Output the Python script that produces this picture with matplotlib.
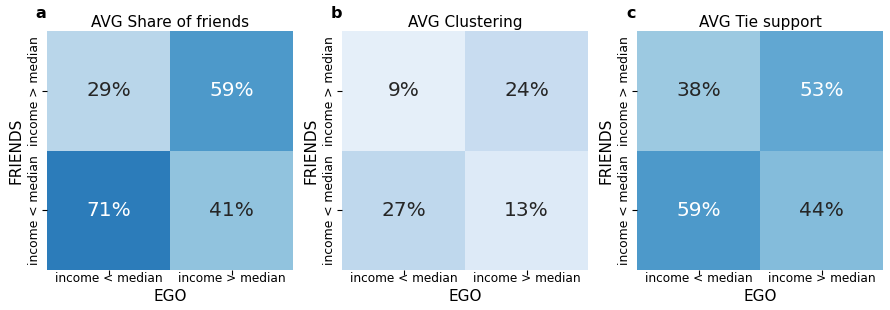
import numpy as np
import matplotlib
matplotlib.use("Agg")
import matplotlib.pyplot as plt
import seaborn as sns

# --------- DATA ---------
ROW_LABELS = ["income > median", "income < median"]   # FRIENDS (top -> bottom)
COL_LABELS = ["income < median", "income > median"]   # EGO (left -> right)

TITLES = ["AVG Share of friends", "AVG Clustering", "AVG Tie support"]
PANEL_LETTERS = ["a", "b", "c"]

share_friends = [[0.29, 0.59],
                 [0.71, 0.41]]
clustering = [[0.09, 0.24],
              [0.27, 0.13]]
tie_support = [[0.38, 0.53],
               [0.59, 0.44]]
# ------------------------

PANELS = [share_friends, clustering, tie_support]
LEFTS = [47, 342, 637]  # px

fig = plt.figure(figsize=(8.9, 3.1), dpi=100)
W, H = 890, 310

for i, (vals, title, letter) in enumerate(zip(PANELS, TITLES, PANEL_LETTERS)):
    ax = fig.add_axes([LEFTS[i] / W, (H - 270) / H, 246 / W, 239 / H])
    arr = np.array(vals)
    labels = np.vectorize(lambda v: f"{v * 100:.0f}%")(arr)
    sns.heatmap(arr, ax=ax, cmap="Blues", vmin=0, vmax=1, cbar=False,
                annot=labels, fmt="", annot_kws={"fontsize": 14.5},
                xticklabels=COL_LABELS, yticklabels=ROW_LABELS)
    ax.set_title(title, fontsize=11, pad=3)
    ax.set_xlabel("EGO", fontsize=11, labelpad=2.5)
    ax.set_ylabel("FRIENDS", fontsize=11, labelpad=3)
    ax.tick_params(axis="x", labelsize=8.7, rotation=0, pad=-2)
    ax.tick_params(axis="y", labelsize=8.9, pad=1)
    plt.setp(ax.get_yticklabels(), rotation=90, va="center")
    fig.text((LEFTS[i] - 6) / W, (H - 14) / H, letter, fontsize=11.5,
             fontweight="bold", ha="center", va="center")

fig.savefig("out.png", dpi=100)
